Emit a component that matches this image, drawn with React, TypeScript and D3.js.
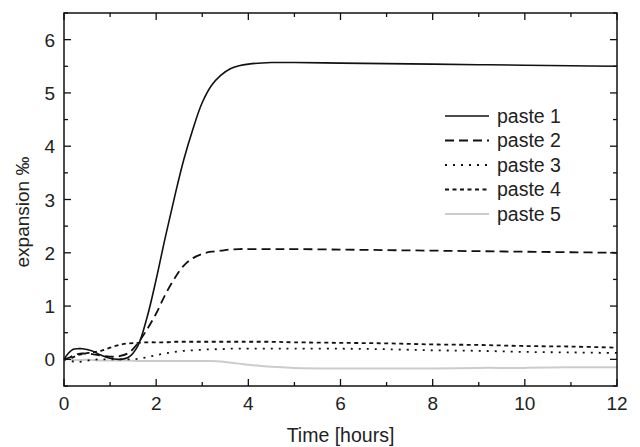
import * as d3 from "d3";

const W = 640;
const H = 447;
const MARGIN = { top: 13, right: 23, bottom: 61, left: 64 };

const hours = [0, 0.1, 0.2, 0.3, 0.4, 0.6, 0.8, 1.0, 1.2, 1.4, 1.6, 1.8, 2.0, 2.2, 2.4, 2.6, 2.8, 3.0, 3.2, 3.4, 3.6, 3.8, 4.0, 4.5, 5, 6, 7, 8, 9, 10, 11, 12];

const paste1 = [0, 0.12, 0.19, 0.2, 0.2, 0.16, 0.08, 0.02, 0.0, 0.04, 0.25, 0.78, 1.5, 2.3, 3.05, 3.75, 4.33, 4.82, 5.14, 5.33, 5.45, 5.51, 5.54, 5.57, 5.57, 5.56, 5.55, 5.54, 5.53, 5.52, 5.51, 5.5];
const paste2 = [0, 0.03, 0.07, 0.1, 0.11, 0.1, 0.07, 0.05, 0.06, 0.12, 0.3, 0.56, 0.86, 1.22, 1.52, 1.76, 1.9, 1.98, 2.02, 2.04, 2.06, 2.07, 2.07, 2.07, 2.07, 2.06, 2.05, 2.04, 2.03, 2.02, 2.01, 2.0];
const paste3 = [0, -0.02, -0.04, -0.05, -0.04, -0.01, 0, 0, 0, 0, 0.01, 0.04, 0.08, 0.11, 0.14, 0.16, 0.17, 0.18, 0.19, 0.19, 0.2, 0.2, 0.2, 0.2, 0.2, 0.2, 0.19, 0.17, 0.16, 0.14, 0.13, 0.12];
const paste4 = [0, 0.01, 0.04, 0.08, 0.1, 0.13, 0.16, 0.22, 0.27, 0.3, 0.31, 0.32, 0.32, 0.32, 0.33, 0.33, 0.33, 0.33, 0.33, 0.33, 0.33, 0.33, 0.33, 0.33, 0.32, 0.31, 0.3, 0.28, 0.27, 0.25, 0.24, 0.22];
const paste5 = [0, 0, -0.01, -0.01, -0.01, -0.01, -0.02, -0.02, -0.02, -0.02, -0.03, -0.03, -0.03, -0.03, -0.03, -0.03, -0.03, -0.03, -0.03, -0.04, -0.06, -0.08, -0.1, -0.14, -0.16, -0.17, -0.17, -0.17, -0.16, -0.16, -0.15, -0.15];

const xTicks = [0, 2, 4, 6, 8, 10, 12];
const yTicks = [0, 1, 2, 3, 4, 5, 6];

const series = [
  { name: "paste 5", values: paste5, color: "#cccccc", dash: "", width: 2 },
  { name: "paste 4", values: paste4, color: "#111", dash: "4,3.5", width: 1.8 },
  { name: "paste 3", values: paste3, color: "#111", dash: "2,6", width: 1.8 },
  { name: "paste 2", values: paste2, color: "#111", dash: "9,5", width: 1.8 },
  { name: "paste 1", values: paste1, color: "#111", dash: "", width: 1.6 },
];
const legendOrder = ["paste 1", "paste 2", "paste 3", "paste 4", "paste 5"];

const FONT = "'Liberation Sans', Arial, sans-serif";

export default function App() {
  const x = d3.scaleLinear().domain([0, 12]).range([MARGIN.left, W - MARGIN.right]);
  const y = d3.scaleLinear().domain([-0.5, 6.5]).range([H - MARGIN.bottom, MARGIN.top]);
  const line = d3
    .line<number>()
    .x((_, i) => x(hours[i]))
    .y((d) => y(d))
    .curve(d3.curveCatmullRom.alpha(0.5));

  const x0 = x(0), x1 = x(12), y0 = y(-0.5), y1 = y(6.5);
  const xMinor = d3.range(0, 13, 1);
  const yMinor = d3.range(-0.5, 6.51, 0.5);

  return (
    <svg width={W} height={H} style={{ position: "absolute", left: 0, top: 0, background: "#fff" }} fontFamily={FONT}>
      <g>
        {series.map((s) => (
          <path key={s.name} d={line(s.values) || ""} fill="none" stroke={s.color}
            strokeWidth={s.width} strokeDasharray={s.dash || undefined} />
        ))}
      </g>
      {/* frame */}
      <rect x={x0} y={y1} width={x1 - x0} height={y0 - y1} fill="none" stroke="#111" strokeWidth={1.5} />
      {xMinor.map((t) => {
        const len = t % 2 === 0 ? 7 : 4;
        return (
          <g key={"xt" + t} stroke="#111" strokeWidth={1.3}>
            <line x1={x(t)} x2={x(t)} y1={y0} y2={y0 - len} />
            <line x1={x(t)} x2={x(t)} y1={y1} y2={y1 + len} />
          </g>
        );
      })}
      {yMinor.map((v) => {
        const len = Number.isInteger(v) ? 7 : 4;
        return (
          <g key={"yt" + v} stroke="#111" strokeWidth={1.3}>
            <line x1={x0} x2={x0 + len} y1={y(v)} y2={y(v)} />
            <line x1={x1} x2={x1 - len} y1={y(v)} y2={y(v)} />
          </g>
        );
      })}
      {xTicks.map((t) => (
        <text key={"xl" + t} x={x(t)} y={410} textAnchor="middle" fontSize={19} fill="#222">{t}</text>
      ))}
      {yTicks.map((v) => (
        <text key={"yl" + v} x={55} y={y(v) + 7} textAnchor="end" fontSize={19} fill="#222">{v}</text>
      ))}
      <text x={(x0 + x1) / 2} y={442} textAnchor="middle" fontSize={19.5} fill="#222">Time [hours]</text>
      <text transform={`translate(29,212) rotate(-90)`} textAnchor="middle" fontSize={19} fill="#222">expansion ‰</text>
      {legendOrder.map((name, i) => {
        const s = series.find((d) => d.name === name)!;
        const ly = 116 + i * 24.5;
        return (
          <g key={"lg" + name}>
            <line x1={445} x2={489} y1={ly} y2={ly} stroke={s.color} strokeWidth={s.width}
              strokeDasharray={s.dash || undefined} />
            <text x={497} y={ly + 6.5} fontSize={19.5} fill="#222">{name}</text>
          </g>
        );
      })}
    </svg>
  );
}
